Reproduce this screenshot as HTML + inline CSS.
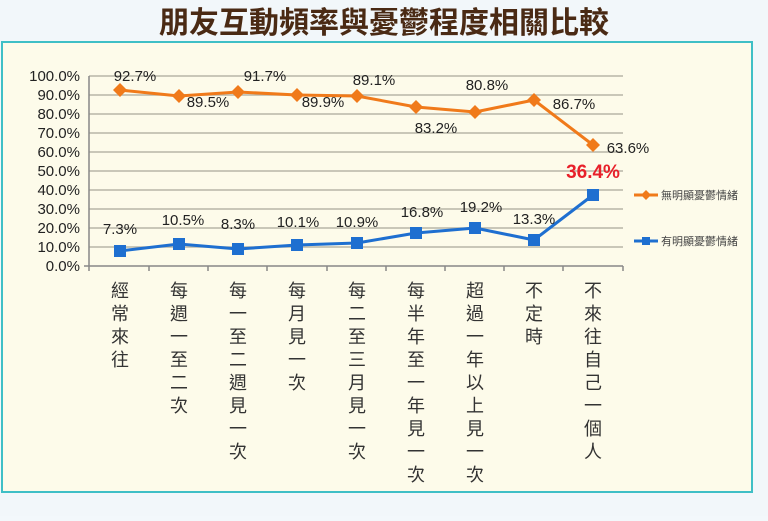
<!DOCTYPE html>
<html><head><meta charset="utf-8"><style>
body{margin:0;width:768px;height:516px;background:#f3f8fb;overflow:hidden;font-family:"Liberation Sans","Noto Sans CJK TC",sans-serif}
</style></head><body>
<svg width="768" height="516" xmlns="http://www.w3.org/2000/svg" font-family="Liberation Sans, Noto Sans CJK TC, sans-serif">
<rect x="0" y="0" width="768" height="516" fill="#f2f7fa"/>
<text x="384" y="33" text-anchor="middle" font-size="30" font-weight="bold" fill="#4a2a14" font-family="Noto Sans CJK TC, sans-serif">朋友互動頻率與憂鬱程度相關比較</text>
<rect x="2" y="42" width="750" height="450" fill="#fdfbea" stroke="#3fbfc6" stroke-width="2"/>
<g stroke="#b8b6a8" stroke-width="1.5">
<line x1="89" y1="76" x2="623" y2="76"/><line x1="89" y1="95" x2="623" y2="95"/><line x1="89" y1="114" x2="623" y2="114"/><line x1="89" y1="133" x2="623" y2="133"/><line x1="89" y1="152" x2="623" y2="152"/><line x1="89" y1="171" x2="623" y2="171"/><line x1="89" y1="190" x2="623" y2="190"/><line x1="89" y1="209" x2="623" y2="209"/><line x1="89" y1="228" x2="623" y2="228"/><line x1="89" y1="247" x2="623" y2="247"/>
</g>
<g stroke="#888" stroke-width="1.5">
<line x1="89" y1="76" x2="89" y2="266"/><line x1="84" y1="266" x2="623" y2="266"/>
<line x1="89" y1="266" x2="89" y2="271"/><line x1="149" y1="266" x2="149" y2="271"/><line x1="208" y1="266" x2="208" y2="271"/><line x1="267" y1="266" x2="267" y2="271"/><line x1="327" y1="266" x2="327" y2="271"/><line x1="386" y1="266" x2="386" y2="271"/><line x1="445" y1="266" x2="445" y2="271"/><line x1="504" y1="266" x2="504" y2="271"/><line x1="563" y1="266" x2="563" y2="271"/><line x1="623" y1="266" x2="623" y2="271"/>
</g>
<g font-size="15" fill="#222" text-anchor="end">
<text x="80" y="81">100.0%</text><text x="80" y="100">90.0%</text><text x="80" y="119">80.0%</text><text x="80" y="138">70.0%</text><text x="80" y="157">60.0%</text><text x="80" y="176">50.0%</text><text x="80" y="195">40.0%</text><text x="80" y="214">30.0%</text><text x="80" y="233">20.0%</text><text x="80" y="252">10.0%</text><text x="80" y="271">0.0%</text>
</g>
<polyline fill="none" stroke="#f07a1a" stroke-width="3" points="120,90 179,96 238,92 297,95 357,96 416,107 475,112 534,100 593,145"/>
<g fill="#f07a1a">
<path d="M120,83l7,7l-7,7l-7,-7z"/><path d="M179,89l7,7l-7,7l-7,-7z"/><path d="M238,85l7,7l-7,7l-7,-7z"/><path d="M297,88l7,7l-7,7l-7,-7z"/><path d="M357,89l7,7l-7,7l-7,-7z"/><path d="M416,100l7,7l-7,7l-7,-7z"/><path d="M475,105l7,7l-7,7l-7,-7z"/><path d="M534,93l7,7l-7,7l-7,-7z"/><path d="M593,138l7,7l-7,7l-7,-7z"/>
</g>
<polyline fill="none" stroke="#1e6fd0" stroke-width="3" points="120,251 179,244 238,249 297,245 357,243 416,233 475,228 534,240 593,195"/>
<g fill="#1e6fd0">
<rect x="114" y="245" width="12" height="12"/><rect x="173" y="238" width="12" height="12"/><rect x="232" y="243" width="12" height="12"/><rect x="291" y="239" width="12" height="12"/><rect x="351" y="237" width="12" height="12"/><rect x="410" y="227" width="12" height="12"/><rect x="469" y="222" width="12" height="12"/><rect x="528" y="234" width="12" height="12"/><rect x="587" y="189" width="12" height="12"/>
</g>
<g font-size="15" fill="#222" text-anchor="middle">
<text x="135" y="81">92.7%</text><text x="208" y="107">89.5%</text><text x="265" y="81">91.7%</text><text x="323" y="107">89.9%</text><text x="374" y="85">89.1%</text><text x="436" y="133">83.2%</text><text x="487" y="90">80.8%</text><text x="574" y="109">86.7%</text><text x="628" y="153">63.6%</text>
<text x="120" y="234">7.3%</text><text x="183" y="225">10.5%</text><text x="238" y="229">8.3%</text><text x="298" y="227">10.1%</text><text x="357" y="227">10.9%</text><text x="422" y="217">16.8%</text><text x="481" y="212">19.2%</text><text x="534" y="224">13.3%</text>
</g>
<text x="593" y="178" text-anchor="middle" font-size="19" font-weight="bold" fill="#e8202a">36.4%</text>
<line x1="634" y1="195" x2="658" y2="195" stroke="#f07a1a" stroke-width="3"/><path d="M646,190l5,5l-5,5l-5,-5z" fill="#f07a1a"/>
<text x="661" y="199" font-size="11" fill="#444" font-family="Noto Sans CJK TC, sans-serif">無明顯憂鬱情緒</text>
<line x1="634" y1="241" x2="658" y2="241" stroke="#1e6fd0" stroke-width="3"/><rect x="642" y="237" width="8" height="8" fill="#1e6fd0"/>
<text x="661" y="245" font-size="11" fill="#444" font-family="Noto Sans CJK TC, sans-serif">有明顯憂鬱情緒</text>
<g font-size="18" fill="#333" text-anchor="middle" font-family="Noto Sans CJK TC, sans-serif">
<text x="120" y="297">經</text><text x="120" y="320">常</text><text x="120" y="343">來</text><text x="120" y="366">往</text>
<text x="179" y="297">每</text><text x="179" y="320">週</text><text x="179" y="343">一</text><text x="179" y="366">至</text><text x="179" y="389">二</text><text x="179" y="412">次</text>
<text x="238" y="297">每</text><text x="238" y="320">一</text><text x="238" y="343">至</text><text x="238" y="366">二</text><text x="238" y="389">週</text><text x="238" y="412">見</text><text x="238" y="435">一</text><text x="238" y="458">次</text>
<text x="297" y="297">每</text><text x="297" y="320">月</text><text x="297" y="343">見</text><text x="297" y="366">一</text><text x="297" y="389">次</text>
<text x="357" y="297">每</text><text x="357" y="320">二</text><text x="357" y="343">至</text><text x="357" y="366">三</text><text x="357" y="389">月</text><text x="357" y="412">見</text><text x="357" y="435">一</text><text x="357" y="458">次</text>
<text x="416" y="297">每</text><text x="416" y="320">半</text><text x="416" y="343">年</text><text x="416" y="366">至</text><text x="416" y="389">一</text><text x="416" y="412">年</text><text x="416" y="435">見</text><text x="416" y="458">一</text><text x="416" y="481">次</text>
<text x="475" y="297">超</text><text x="475" y="320">過</text><text x="475" y="343">一</text><text x="475" y="366">年</text><text x="475" y="389">以</text><text x="475" y="412">上</text><text x="475" y="435">見</text><text x="475" y="458">一</text><text x="475" y="481">次</text>
<text x="534" y="297">不</text><text x="534" y="320">定</text><text x="534" y="343">時</text>
<text x="593" y="297">不</text><text x="593" y="320">來</text><text x="593" y="343">往</text><text x="593" y="366">自</text><text x="593" y="389">己</text><text x="593" y="412">一</text><text x="593" y="435">個</text><text x="593" y="458">人</text>
</g>
</svg>
</body></html>
